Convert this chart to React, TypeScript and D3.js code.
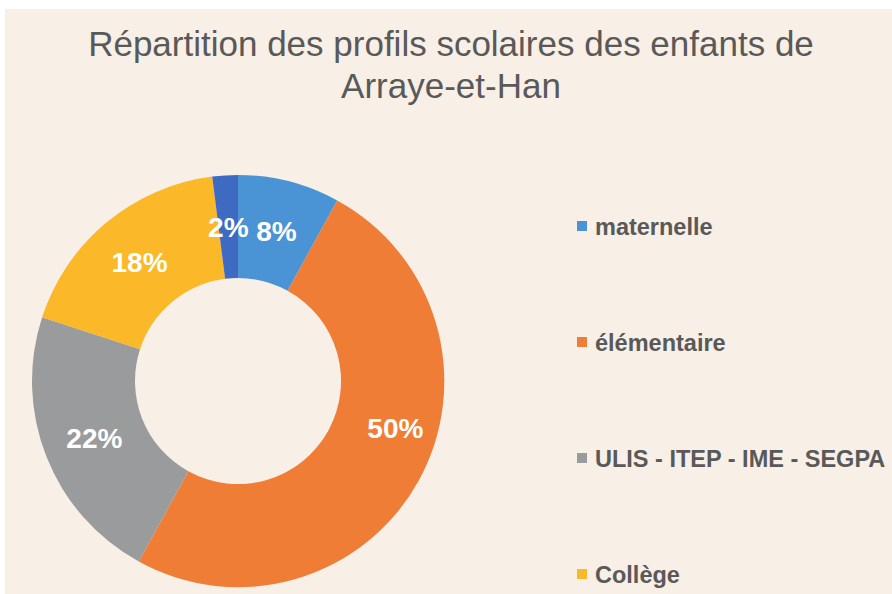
import React from 'react'
import { arc, pie } from 'd3'

const categories = ['maternelle', 'élémentaire', 'ULIS - ITEP - IME - SEGPA', 'Collège', 'autre']
const values = [8, 50, 22, 18, 2]
const colors = ['#4a93d4', '#ef7d36', '#9a9b9d', '#fbb829', '#3e6bc1']
const titleLines = ['Répartition des profils scolaires des enfants de', 'Arraye-et-Han']

const width = 892
const height = 594
const cx = 238
const cy = 381
const outerR = 206
const innerR = 103

// Excel moved the big label a little off its centroid
const labelNudge = [[0, 0], [22, -27], [0, 0], [0, 0], [0, 0]]

const App = () => {
  const slices = pie<number>().sort(null).value(d => d)(values)
  const sliceArc = arc<any>().innerRadius(innerR).outerRadius(outerR)
  const total = values.reduce((a, b) => a + b, 0)
  const font = '"Liberation Sans", Arial, sans-serif'

  return (
    <div style={{ position: 'absolute', left: 0, top: 0 }}>
      <svg width={width} height={height} style={{ display: 'block' }}>
        <rect width={width} height={height} fill="#ffffff" />
        <rect x={5} y={9} width={width - 5} height={height - 9} fill="#f8efe6" />
        {titleLines.map((t, i) => (
          <text
            key={t}
            x={451}
            y={56 + i * 42}
            textAnchor="middle"
            fontFamily={font}
            fontSize={35}
            fill="#595959"
          >
            {t}
          </text>
        ))}
        <g transform={`translate(${cx},${cy})`}>
          {slices.map((s, i) => (
            <path key={i} d={sliceArc(s) || ''} fill={colors[i]} />
          ))}
          {slices.map((s, i) => {
            const [x, y] = sliceArc.centroid(s)
            return (
              <text
                key={'l' + i}
                x={x + labelNudge[i][0]}
                y={y + labelNudge[i][1]}
                dy="0.35em"
                textAnchor="middle"
                fontFamily={font}
                fontWeight="bold"
                fontSize={28}
                fill="#ffffff"
              >
                {Math.round((values[i] / total) * 100)}%
              </text>
            )
          })}
        </g>
        {categories.map((c, i) => {
          const y = 227 + i * 116
          return (
            <g key={c}>
              <rect x={577} y={y - 6} width={10} height={10} fill={colors[i]} />
              <text
                x={595}
                y={y}
                dy="0.35em"
                fontFamily={font}
                fontWeight="bold"
                fontSize={23.5}
                fill="#595959"
              >
                {c}
              </text>
            </g>
          )
        })}
      </svg>
    </div>
  )
}

export default App
